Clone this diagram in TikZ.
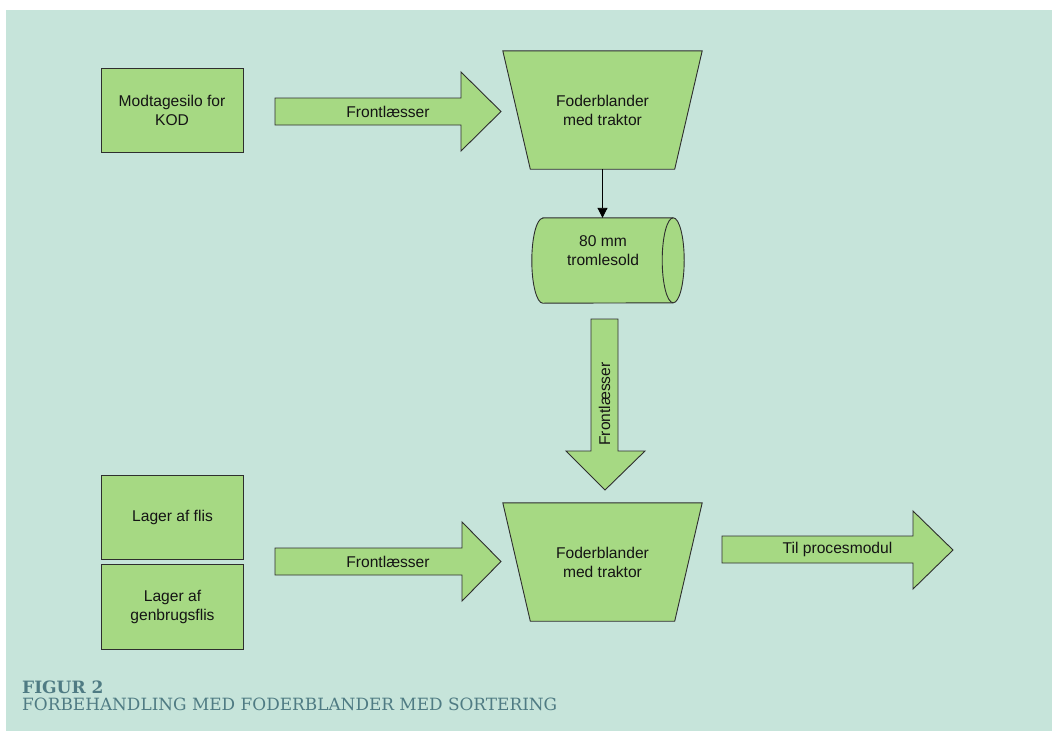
\documentclass[tikz,border=0pt]{standalone}
\usepackage{fontspec}
\setmainfont{Liberation Sans}
\newfontfamily\capfont{DejaVu Serif}
\usetikzlibrary{arrows.meta}
\definecolor{bgmint}{HTML}{C6E4DA}
\definecolor{boxgreen}{HTML}{A6D983}
\definecolor{capteal}{HTML}{4F7B83}
\definecolor{edgecol}{HTML}{2E2E2E}
\pgfdeclarelayer{back}
\pgfdeclarelayer{shapes}
\pgfsetlayers{back,shapes,main}
\begin{document}
\begin{tikzpicture}[x=1pt,y=-1pt,
  shapefill/.style={fill=boxgreen, draw=edgecol, line width=0.9pt, line join=miter},
  lbl/.style={font=\fontsize{15.6}{19}\selectfont, align=center, text=black!92, inner sep=0pt},
  boxnode/.style={shapefill, rectangle, minimum width=142pt, inner sep=0pt, lbl},
  frame/.style={rectangle, inner sep=0pt, lbl},
  thinarrow/.style={draw=black, line width=0.9pt, -{Triangle[length=10pt,width=10pt]}},
  caption/.style={anchor=base west, inner sep=0pt, text=capteal}
]
\useasboundingbox (0,0) rectangle (1052,731);
\begin{pgfonlayer}{back}
  \fill[bgmint] (6,10) rectangle (1052,731);
\end{pgfonlayer}

% plain boxes
\node[boxnode, minimum height=84pt] (kod) at (172,110) {Modtagesilo for\\KOD};
\node[boxnode, minimum height=84pt] (flis) at (172.5,517) {Lager af flis};
\node[boxnode, minimum height=85pt] (genbrug) at (172.5,606.5) {Lager af\\genbrugsflis};

% mixers (trapezoids)
\node[frame, minimum width=199pt, minimum height=118pt] (mix1) at (602.5,110) {Foderblander\\med traktor};
\node[frame, minimum width=199pt, minimum height=118pt] (mix2) at (602.5,562) {Foderblander\\med traktor};
\begin{pgfonlayer}{shapes}
  \foreach \m in {mix1,mix2}{
    \draw[shapefill] (\m.north west) -- (\m.north east)
      -- ([xshift=-27.5pt]\m.south east) -- ([xshift=27.5pt]\m.south west) -- cycle;
  }
\end{pgfonlayer}

% drum sieve (cylinder)
\node[frame, minimum width=152pt, minimum height=85pt] (sold) at (608,260.5) {};
\node[lbl] (soldtxt) at (603,251) {80 mm\\tromlesold};
\begin{pgfonlayer}{shapes}
  \draw[shapefill] ([xshift=11pt]sold.north west) -- ([xshift=-11pt]sold.north east)
    arc[start angle=90, end angle=-90, x radius=11pt, y radius=42.5pt]
    -- ([xshift=11pt]sold.south west)
    arc[start angle=270, end angle=90, x radius=11pt, y radius=42.5pt] -- cycle;
  \draw[draw=edgecol, line width=0.9pt] ([xshift=-11pt]sold.north east)
    arc[start angle=90, end angle=270, x radius=11pt, y radius=42.5pt];
\end{pgfonlayer}

% thin connector
\draw[thinarrow] (mix1.south) -- (mix1.south |- sold.north);

% block arrows
\begin{pgfonlayer}{shapes}
  \draw[shapefill] (275,98) -- (461,98) -- (461,72) -- (501,111.5) -- (461,151) -- (461,125) -- (275,125) -- cycle;
  \draw[shapefill] (275,548) -- (462,548) -- (462,522) -- (501,561.5) -- (462,601) -- (462,575) -- (275,575) -- cycle;
  \draw[shapefill] (722,536) -- (913,536) -- (913,511) -- (953,550) -- (913,589) -- (913,563) -- (722,563) -- cycle;
  \draw[shapefill] (591,319) -- (618,319) -- (618,451) -- (645,451) -- (605,490) -- (566,451) -- (591,451) -- cycle;
\end{pgfonlayer}
\node[lbl] (fl1) at (388,111.5) {Frontlæsser};
\node[lbl] (fl2) at (388,561.5) {Frontlæsser};
\node[lbl] (til) at (837.5,549.5) {Til procesmodul};
\node[lbl, rotate=90] (fl3) at (604.5,404) {Frontlæsser};

% caption
\node[caption, font=\capfont\bfseries\fontsize{17}{19}\selectfont] (figno) at (22,693) {FIGUR 2};
\node[caption, font=\capfont\fontsize{16.9}{19}\selectfont] (figtitle) at (22,710.5) {FORBEHANDLING MED FODERBLANDER MED SORTERING};
\end{tikzpicture}
\end{document}
